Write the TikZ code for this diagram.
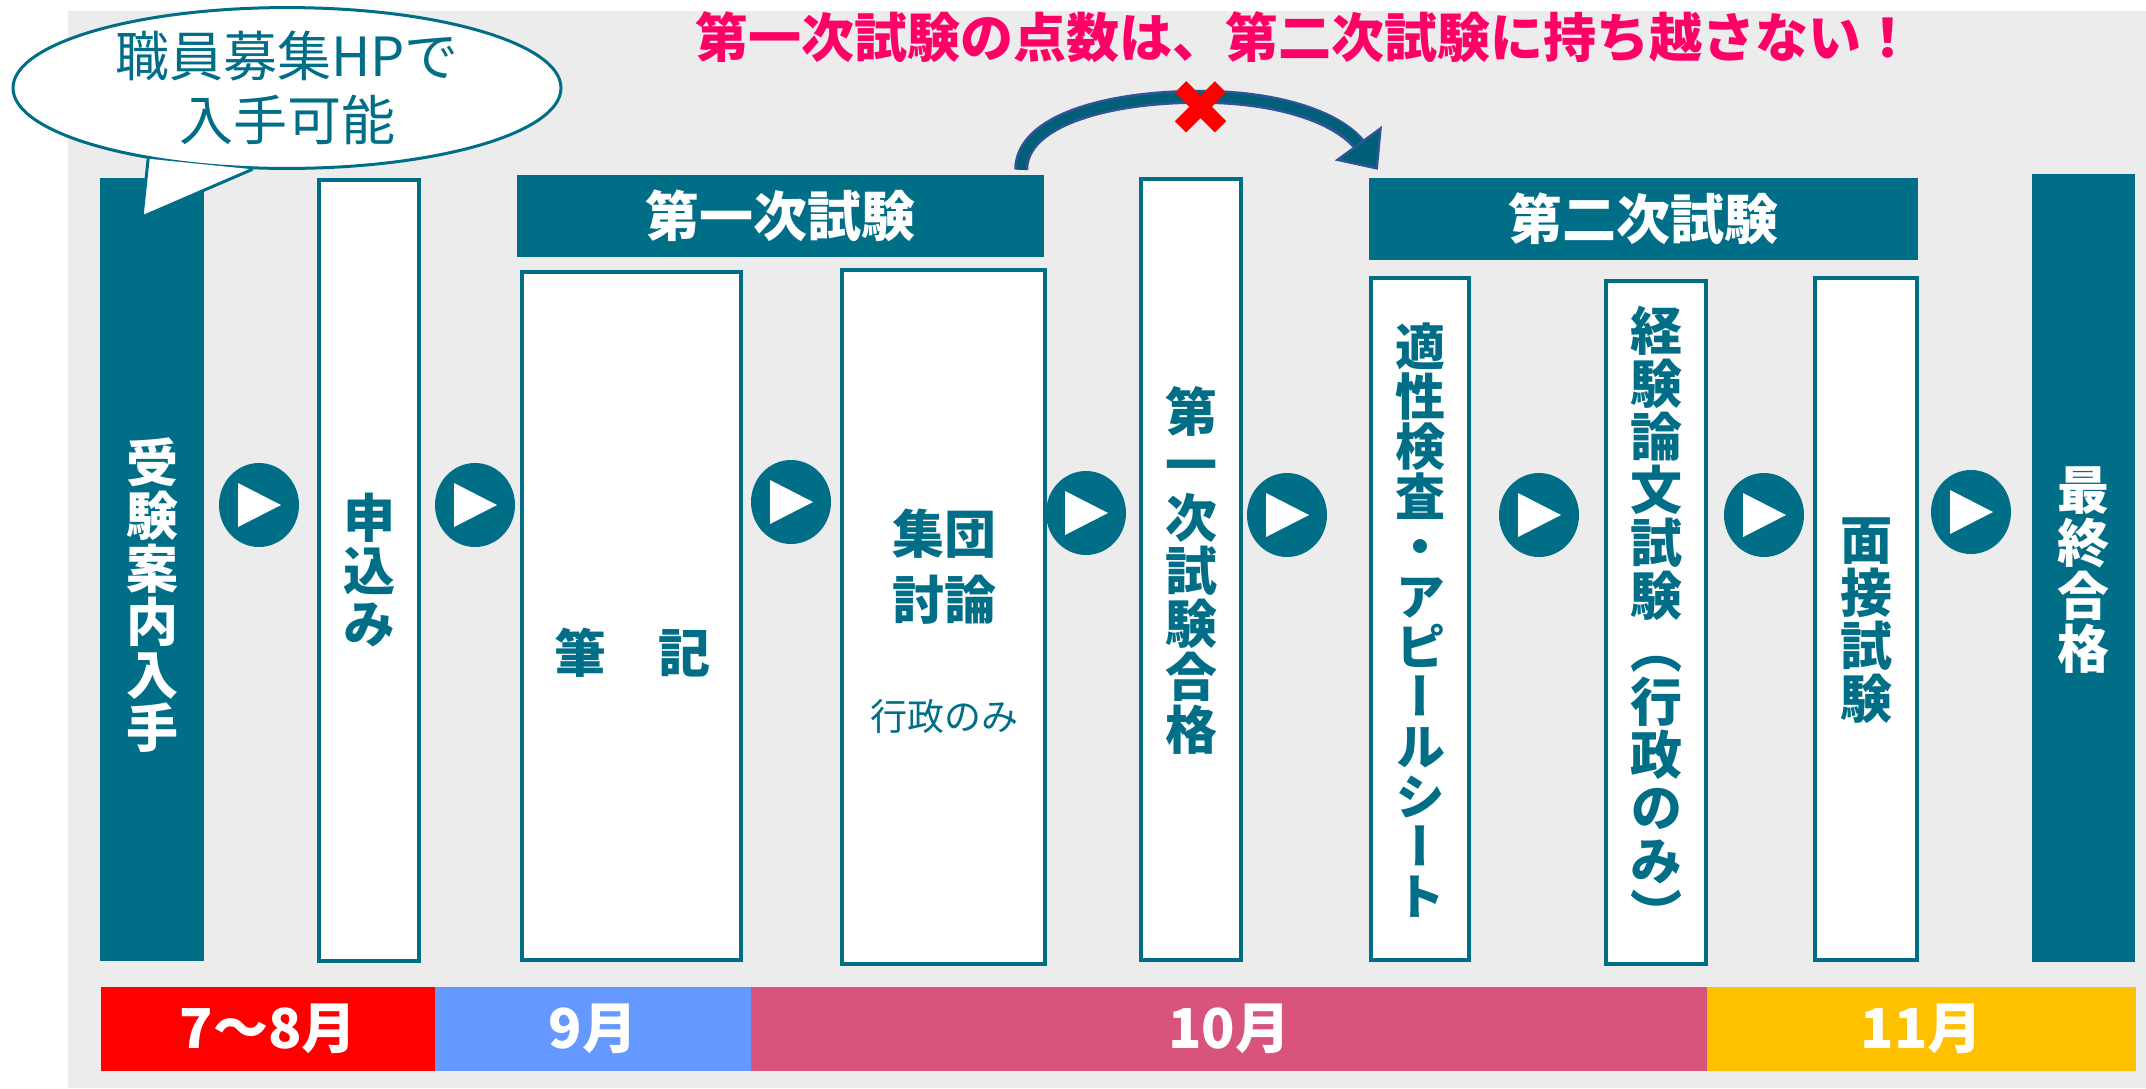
\documentclass[tikz,border=0pt]{standalone}
\usepackage{fontspec}
\setmainfont{Noto Sans CJK JP}
\newfontfamily\vfont[RawFeature=+vert]{Noto Sans CJK JP}
\usetikzlibrary{calc,shapes.geometric,arrows.meta}

\definecolor{teal0}{RGB}{0,110,135}
\definecolor{bgray}{RGB}{236,236,236}
\definecolor{warnpink}{RGB}{255,0,102}
\definecolor{monthred}{RGB}{255,0,0}
\definecolor{monthblue}{RGB}{102,153,255}
\definecolor{monthpink}{RGB}{217,84,125}
\definecolor{monthgold}{RGB}{255,192,0}
\definecolor{carryblue}{RGB}{47,85,151}
\definecolor{carryteal}{RGB}{0,95,120}

\tikzset{
  stepbox/.style={draw=teal0, line width=4pt, fill=white, inner sep=0pt},
  darkbox/.style={fill=teal0, inner sep=0pt},
  headbox/.style={fill=teal0, text=white, inner sep=0pt, minimum height=82pt,
    font=\bfseries\fontsize{54}{54}\selectfont},
  vtext/.style={align=center, inner sep=0pt, text=teal0,
    font=\vfont\bfseries\fontsize{52}{53}\selectfont},
  playbtn/.style={ellipse, fill=teal0, minimum width=80pt, minimum height=84pt, inner sep=0pt},
  month/.style={text=white, inner sep=0pt, minimum height=84pt,
    font=\bfseries\fontsize{55}{55}\selectfont},
}

\begin{document}
\begin{tikzpicture}[x=1pt,y=-1pt]

\useasboundingbox (0,0) rectangle (2146,1088);
\fill[bgray] (68,11) rectangle (2146,1088);

% Title
\node[text=warnpink, inner sep=0pt, font=\bfseries\fontsize{53}{53}\selectfont] (warn) at (1305,37)
  {第一次試験の点数は、第二次試験に持ち越さない！};

% Step columns
\node[darkbox, minimum width=104pt, minimum height=783pt] (guide) at (152,569.5) {};
\node[stepbox, minimum width=100pt, minimum height=781pt] (apply) at (369,570.5) {};
\node[stepbox, minimum width=219pt, minimum height=688pt] (written) at (631.5,616) {};
\node[stepbox, minimum width=203pt, minimum height=694pt] (group) at (943.5,617) {};
\node[stepbox, minimum width=100pt, minimum height=781pt] (pass1) at (1191,569.5) {};
\node[stepbox, minimum width=98pt, minimum height=682pt] (aptitude) at (1420,619) {};
\node[stepbox, minimum width=100pt, minimum height=683pt] (essay) at (1656,622.5) {};
\node[stepbox, minimum width=102pt, minimum height=682pt] (interview) at (1866,619) {};
\node[darkbox, minimum width=103pt, minimum height=788pt] (final) at (2083.5,568) {};

% Stage headers
\node[headbox, minimum width=527pt] (stage1) at (780.5,216) {第一次試験};
\node[headbox, minimum width=549pt] (stage2) at (1643.5,219) {第二次試験};

% Column labels
\node[vtext, text=white] (tguide) at (152,595) {受\\験\\案\\内\\入\\手};
\node[vtext] (tapply) at (369,570) {申\\込\\み};
\node[text=teal0, inner sep=0pt, font=\bfseries\fontsize{52}{52}\selectfont] (twritten) at (632,653) {筆　記};
\node[text=teal0, inner sep=0pt, align=center, font=\bfseries\fontsize{52}{66}\selectfont] (tgroup) at (944,567) {集団\\討論};
\node[text=teal0, inner sep=0pt, font=\fontsize{37}{37}\selectfont] (tgroupnote) at (944,716) {行政のみ};
\node[vtext] (tpass1) at (1191,570) {第\\一\\次\\試\\験\\合\\格};
\node[vtext, font=\vfont\bfseries\fontsize{50}{50}\selectfont] (taptitude) at (1420,620)
  {適\\性\\検\\査\\・\\ア\\ピ\\ー\\ル\\シ\\ー\\ト};
\node[vtext] (tessay) at (1656,620) {経\\験\\論\\文\\試\\験\\（\\行\\政\\の\\み\\）};
\node[vtext] (tinterview) at (1866,621) {面\\接\\試\\験};
\node[vtext, text=white] (tfinal) at (2083,570) {最\\終\\合\\格};

% Play buttons between steps
\foreach \n/\px/\py in {1/259/505, 2/475/505, 3/791/502, 4/1086/513,
                        5/1287/515, 6/1539/515, 7/1764/515, 8/1971/512} {
  \node[playbtn] (play\n) at (\px,\py) {};
  \fill[white] ($(play\n)+(-21,-22)$) -- ($(play\n)+(22,0)$) -- ($(play\n)+(-21,22)$) -- cycle;
}

% Callout
\node[ellipse, draw=teal0, line width=3pt, fill=white, minimum width=548pt, minimum height=158pt,
  inner sep=0pt, text=teal0, align=center, font=\fontsize{54}{64}\selectfont] (hpnote) at (287,88)
  {職員募集HPで\\入手可能};
\coordinate (hptip) at (142,217);
\fill[white] (hpnote.207) -- (hptip) -- (hpnote.247) -- cycle;
\draw[teal0, line width=3pt] (hpnote.207) -- (hptip) -- (hpnote.247);

% Score is not carried over
\coordinate (carryfrom) at ($(stage1.north east)+(-23,-5)$);
\coordinate (carryto) at ($(stage2.north west)+(9,-8)$);
\coordinate (carrytop) at ($(carryfrom)!0.5!(carryto)+(0,-73)$);
\draw[carryblue, line width=14pt, shorten >=28pt]
  (carryfrom) .. controls +(0,-50) and +(-90,0) .. (carrytop)
  .. controls +(80,0) and +(-38,-52) .. (carryto);
\draw[carryteal, line width=9pt, -{Triangle[width=58pt,length=33pt,fill=carryteal,color=carryblue,line width=2.5pt]}]
  (carryfrom) .. controls +(0,-50) and +(-90,0) .. (carrytop)
  .. controls +(80,0) and +(-38,-52) .. (carryto);
\draw[red, line width=16pt] ($(carrytop)+(-19,-10)$) -- ($(carrytop)+(21,30)$)
  ($(carrytop)+(21,-10)$) -- ($(carrytop)+(-19,30)$);

% Months
\node[month, fill=monthred, minimum width=334pt] (m78) at (268,1029) {7～8月};
\node[month, fill=monthblue, minimum width=316pt] (m9) at (593,1029) {9月};
\node[month, fill=monthpink, minimum width=956pt] (m10) at (1229,1029) {10月};
\node[month, fill=monthgold, minimum width=429pt] (m11) at (1921.5,1029) {11月};

\end{tikzpicture}
\end{document}
